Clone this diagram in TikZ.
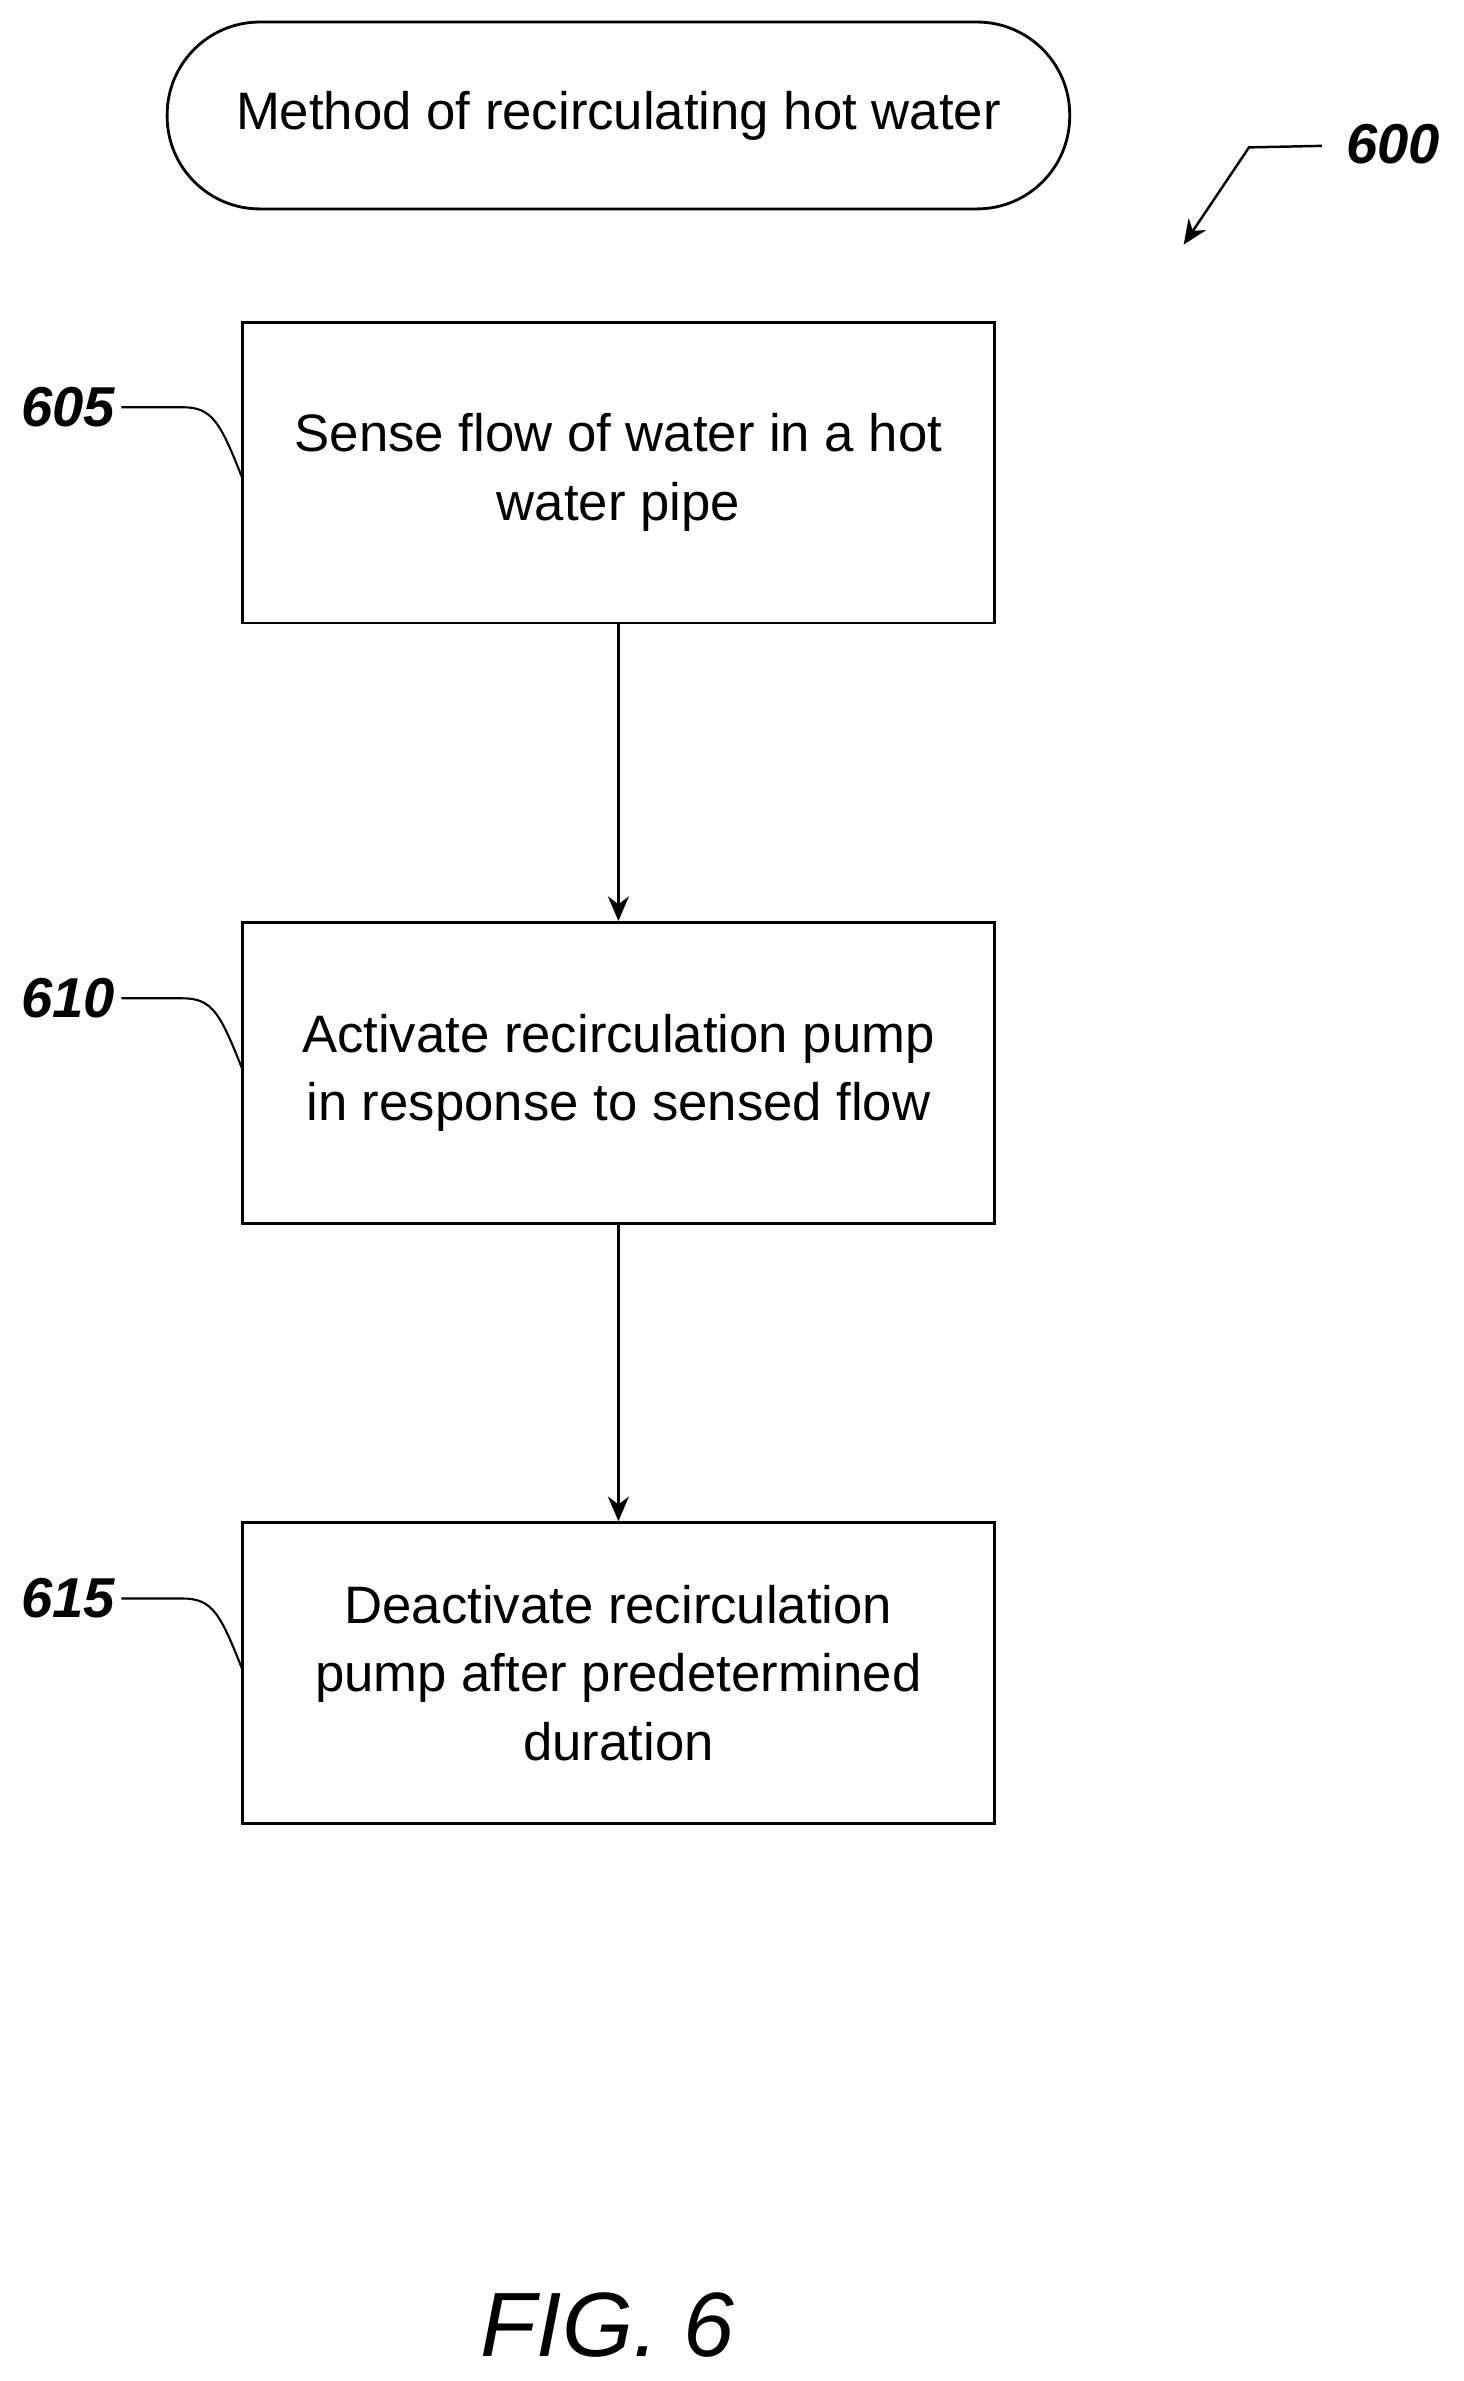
\documentclass[tikz,border=0pt]{standalone}
\usepackage{fontspec}
\setmainfont{Liberation Sans}
\usetikzlibrary{arrows.meta}
\begin{document}
\begin{tikzpicture}[x=0.0304cm,y=-0.0304cm,
  box/.style={draw,line width=1.6pt,minimum width=495*0.0304cm,minimum height=198*0.0304cm,align=center,font=\fontsize{30}{39}\selectfont,inner sep=0pt},
  lab/.style={font=\fontsize{32}{34}\selectfont\bfseries\itshape},
  arr/.style={line width=1.4pt,-{Stealth[length=14pt,width=12pt]}},
  lead/.style={line width=1.2pt}]
\useasboundingbox (0,0) rectangle (963,1567);
\node[draw,line width=1.6pt,rounded corners=61*0.0304cm,minimum width=594*0.0304cm,minimum height=123*0.0304cm,font=\fontsize{30}{39}\selectfont] (t) at (407,76) {Method of recirculating hot water};
\node[box] (b1) at (407,311) {Sense flow of water in a hot\\water pipe};
\node[box] (b2) at (407,706) {Activate recirculation pump\\in response to sensed flow};
\node[box] (b3) at (407,1101) {Deactivate recirculation\\pump after predetermined\\duration};
\draw[arr] (b1.south) -- (b2.north);
\draw[arr] (b2.south) -- (b3.north);
\node[lab] (l600) at (917,95) {600};
\coordinate (a1) at (870,96);
\coordinate (a2) at (822,97);
\coordinate (a3) at (779,161);
\draw[arr] (a1) -- (a2) -- (a3);
\foreach \n/\y in {605/268,610/657,615/1052}{
  \node[lab] (l\n) at (45,\y) {\n};
  \coordinate (c\n) at (160,\y+48);
  \draw[lead] (l\n.east) -- (120,\y) .. controls (140,\y) and (145,\y+10) .. (c\n);
}
\node[font=\fontsize{52}{60}\selectfont\itshape] (fig) at (400,1530) {FIG. 6};
\end{tikzpicture}
\end{document}
